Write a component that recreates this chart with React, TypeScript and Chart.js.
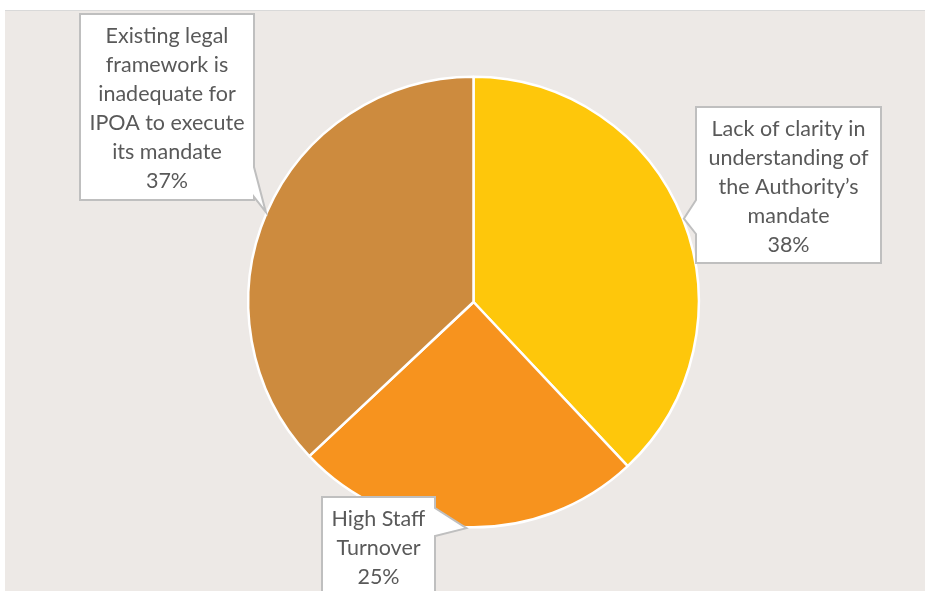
import React, { useEffect, useRef } from "react";
import { Chart, registerables } from "chart.js";

Chart.register(...registerables);

const categories = [
  "Lack of clarity in understanding of the Authority’s mandate",
  "High Staff Turnover",
  "Existing legal framework is inadequate for IPOA to execute its mandate",
];
const labelLines = [
  ["Lack of clarity in", "understanding of", "the Authority’s", "mandate"],
  ["High Staff", "Turnover"],
  ["Existing legal", "framework is", "inadequate for", "IPOA to execute", "its mandate"],
];
const values = [38, 25, 37];
const colors = ["#FEC70B", "#F7931E", "#CD8B3E"];

// callout box placement (page coords) and pointer side
const boxes = [
  { x: 696, y: 107, w: 185, h: 156, side: "left", b1: 200, b2: 234 },
  { x: 322, y: 497, w: 113, h: 110, side: "right", b1: 508, b2: 536 },
  { x: 80, y: 14, w: 174, h: 186, side: "right", b1: 167, b2: 197 },
];

const calloutPlugin = {
  id: "callouts",
  afterDraw(chart: any) {
    const ctx = chart.ctx;
    const meta = chart.getDatasetMeta(0);
    const total = values.reduce((a, b) => a + b, 0);
    meta.data.forEach((arc: any, i: number) => {
      const p = arc.getProps(["x", "y", "startAngle", "endAngle", "outerRadius"], true);
      const mid = (p.startAngle + p.endAngle) / 2;
      const tx = p.x + Math.cos(mid) * (p.outerRadius + 1);
      const ty = p.y + Math.sin(mid) * (p.outerRadius + 1);
      const b = boxes[i];
      ctx.save();
      ctx.beginPath();
      ctx.moveTo(b.x, b.y);
      ctx.lineTo(b.x + b.w, b.y);
      if (b.side === "right") {
        ctx.lineTo(b.x + b.w, b.b1);
        ctx.lineTo(tx, ty);
        ctx.lineTo(b.x + b.w, b.b2);
      }
      ctx.lineTo(b.x + b.w, b.y + b.h);
      ctx.lineTo(b.x, b.y + b.h);
      if (b.side === "left") {
        ctx.lineTo(b.x, b.b2);
        ctx.lineTo(tx, ty);
        ctx.lineTo(b.x, b.b1);
      }
      ctx.closePath();
      ctx.fillStyle = "#FFFFFF";
      ctx.fill();
      ctx.lineWidth = 2;
      ctx.strokeStyle = "#BFBFBF";
      ctx.lineJoin = "miter";
      ctx.stroke();

      const lines = [...labelLines[i], Math.round((values[i] / total) * 100) + "%"];
      const lh = 29;
      ctx.fillStyle = "#595959";
      ctx.font = "21.5px Lato, 'Open Sans', sans-serif";
      ctx.textAlign = "center";
      ctx.textBaseline = "middle";
      const cx = b.x + b.w / 2;
      const startY = b.y + 22;
      lines.forEach((ln, k) => ctx.fillText(ln, cx, startY + k * lh));
      ctx.restore();
    });
  },
};

export default function App() {
  const ref = useRef<HTMLCanvasElement>(null);
  useEffect(() => {
    document.body.style.margin = "0";
    const chart = new Chart(ref.current!, {
      type: "pie",
      data: {
        labels: categories,
        datasets: [
          {
            data: values,
            backgroundColor: colors,
            borderColor: "#FFFFFF",
            borderWidth: 2.5,
          },
        ],
      },
      options: {
        animation: false,
        responsive: false,
        maintainAspectRatio: false,
        layout: { padding: { left: 247, right: 225, top: 75, bottom: 62 } },
        plugins: { legend: { display: false }, tooltip: { enabled: false } },
      },
      plugins: [calloutPlugin],
    });
    return () => chart.destroy();
  }, []);
  return (
    <div style={{ position: "relative", width: 925, height: 591, background: "#FFFFFF", overflow: "hidden" }}>
      <div
        style={{
          position: "absolute",
          left: 5,
          top: 10,
          width: 920,
          height: 581,
          background: "#EDE9E6",
          borderTop: "1px solid #D9D9D9",
          boxSizing: "border-box",
        }}
      />
      <canvas ref={ref} width={925} height={591} style={{ position: "absolute", left: 0, top: 0 }} />
    </div>
  );
}
